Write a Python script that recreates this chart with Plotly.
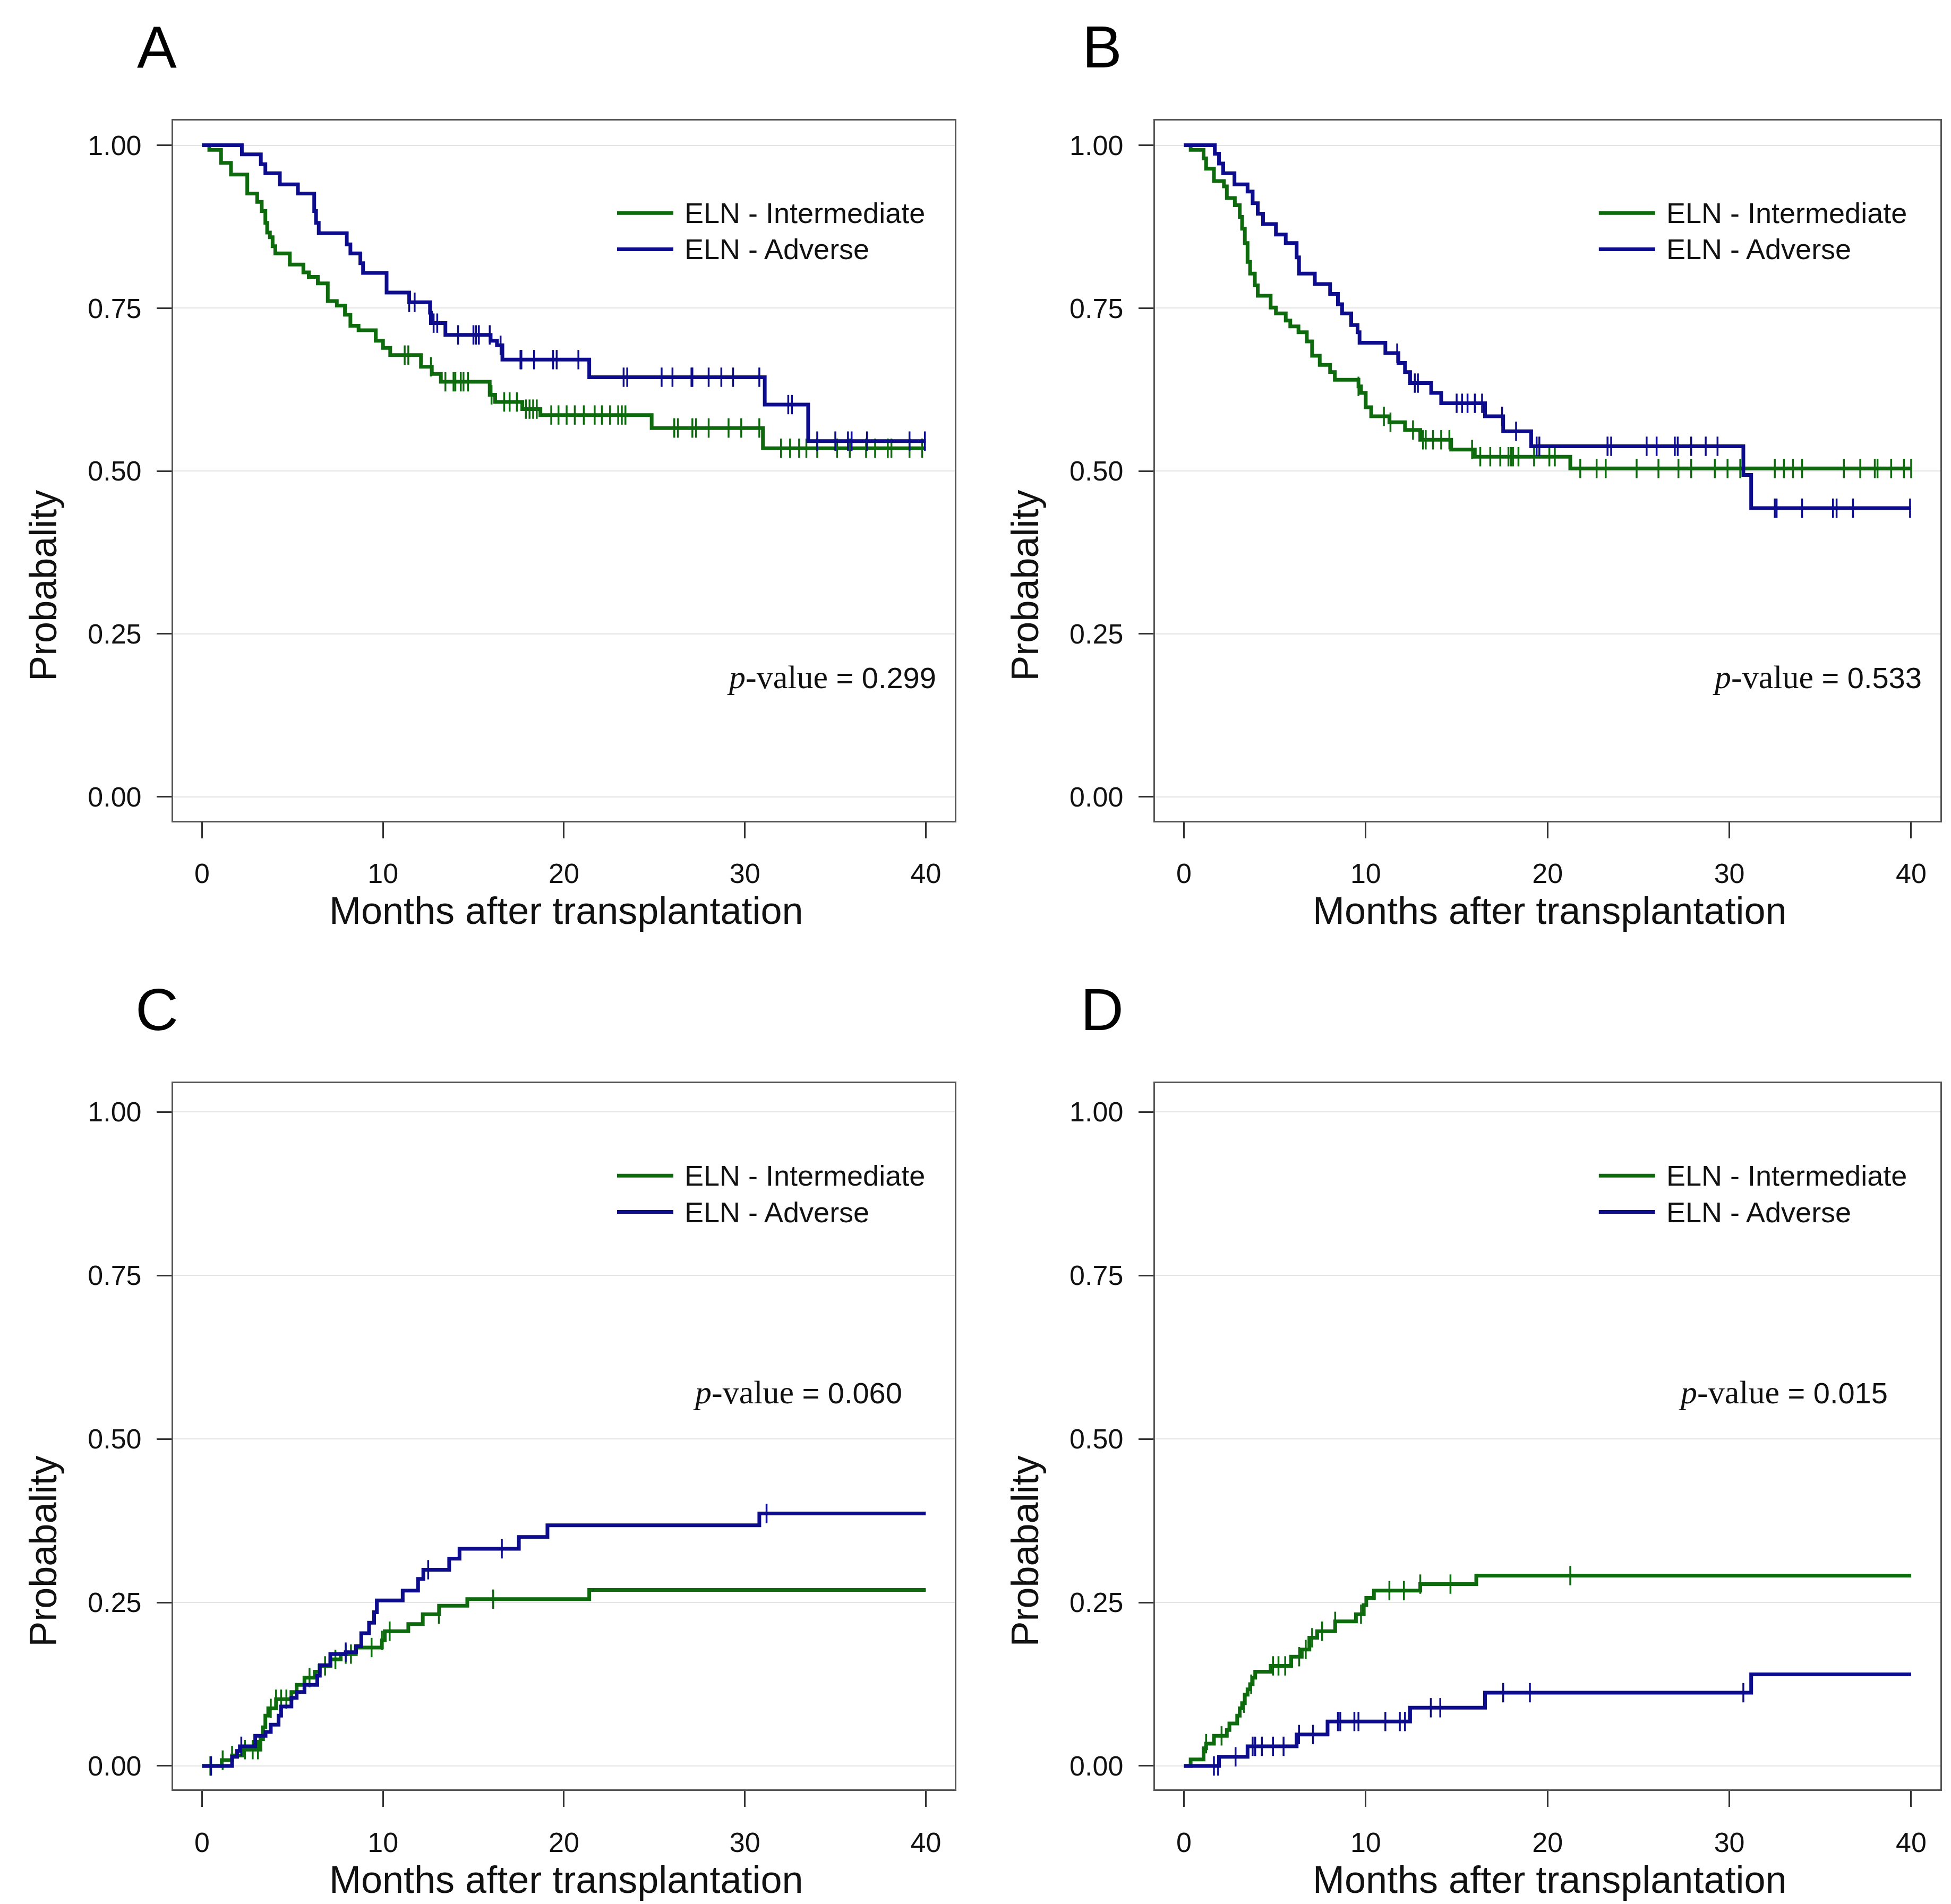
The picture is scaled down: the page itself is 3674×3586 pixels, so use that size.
import plotly.graph_objects as go

# ---------------- DATA ----------------
# Panel A (survival)
A_int_t = [0.4, 1.05, 1.6, 2.5, 3.05, 3.3, 3.5, 3.6, 3.75, 3.9, 4.05, 4.85, 5.6, 5.9, 6.4, 6.95, 7.45,
           7.9, 8.2, 8.65, 9.6, 10.0, 10.4, 12.1, 12.7, 13.2, 15.9, 16.2, 17.7, 18.7, 24.85, 31.0]
A_int_s = [0.993, 0.973, 0.955, 0.926, 0.913, 0.899, 0.881, 0.866, 0.859, 0.845, 0.834, 0.817, 0.805, 0.798,
           0.788, 0.761, 0.754, 0.740, 0.723, 0.716, 0.700, 0.689, 0.678, 0.660, 0.649, 0.637, 0.617, 0.606,
           0.595, 0.586, 0.566, 0.535]
A_int_cens = [11.2, 11.4, 12.65, 13.45, 13.9, 14.0, 14.3, 14.45, 14.7, 16.0, 16.7, 17.0, 17.4, 17.9, 18.1,
              18.3, 18.5, 19.3, 19.7, 20.15, 20.6, 21.1, 21.7, 22.1, 22.55, 23.0, 23.2, 23.4, 26.1, 26.3,
              27.1, 27.3, 28.0, 29.1, 29.8, 30.8, 32.0, 32.5, 33.0, 33.4, 34.0, 35.1, 35.8, 36.7, 37.2,
              37.9, 38.1, 39.1, 39.8]

A_adv_t = [2.2, 3.25, 3.5, 4.3, 5.3, 6.2, 6.3, 6.45, 8.0, 8.2, 8.75, 8.9, 10.2, 11.45, 12.6, 12.65, 13.45,
           15.95, 16.3, 16.6, 21.4, 31.1, 33.5]
A_adv_s = [0.986, 0.971, 0.957, 0.940, 0.926, 0.899, 0.881, 0.865, 0.848, 0.834, 0.819, 0.804, 0.774, 0.759,
           0.743, 0.727, 0.709, 0.700, 0.693, 0.671, 0.644, 0.602, 0.546]
A_adv_cens = [11.45, 11.75, 12.8, 13.0, 14.15, 15.0, 15.15, 15.3, 15.9, 16.5, 17.6, 17.65, 18.35, 19.4,
              19.6, 20.8, 23.3, 23.5, 25.4, 26.0, 27.05, 27.1, 28.0, 28.7, 29.35, 30.8, 32.4, 32.6, 34.0,
              35.0, 35.7, 35.9, 36.75, 39.1, 39.95]

# Panel B (survival)
B_int_t = [0.37, 1.08, 1.22, 1.65, 2.2, 2.36, 2.8, 3.07, 3.2, 3.35, 3.5, 3.64, 3.9, 4.06, 4.77, 5.06, 5.6,
           5.85, 6.3, 6.76, 7.05, 7.47, 8.04, 8.3, 9.6, 9.74, 10.0, 10.3, 11.3, 12.16, 13.0, 14.7, 16.0, 21.25]
B_int_s = [0.993, 0.980, 0.964, 0.945, 0.937, 0.919, 0.908, 0.890, 0.872, 0.850, 0.821, 0.803, 0.785, 0.769,
           0.751, 0.742, 0.731, 0.722, 0.713, 0.699, 0.677, 0.663, 0.652, 0.640, 0.630, 0.620, 0.598, 0.584,
           0.575, 0.563, 0.548, 0.533, 0.522, 0.504]
B_int_cens = [9.6, 11.0, 11.36, 12.6, 13.15, 13.3, 13.7, 14.15, 14.6, 15.85, 16.3, 16.85, 17.4, 17.85, 18.0,
              18.1, 18.4, 19.26, 20.1, 20.4, 21.8, 22.7, 23.2, 24.9, 26.1, 27.2, 27.9, 29.2, 29.9, 30.6,
              32.5, 33.0, 33.5, 34.0, 36.3, 37.2, 38.0, 38.15, 38.9, 39.6, 40.0]

B_adv_t = [1.7, 1.93, 2.16, 2.78, 3.5, 3.78, 4.06, 4.35, 5.06, 5.6, 6.2, 6.33, 7.2, 8.04, 8.47, 8.7, 9.2,
           9.55, 9.66, 11.08, 11.8, 12.16, 12.44, 13.6, 14.15, 16.56, 17.56, 19.1, 30.77, 31.2]
B_adv_s = [0.987, 0.972, 0.957, 0.940, 0.929, 0.911, 0.895, 0.879, 0.863, 0.850, 0.828, 0.803, 0.787, 0.772,
           0.756, 0.742, 0.724, 0.713, 0.697, 0.681, 0.666, 0.652, 0.635, 0.620, 0.604, 0.584, 0.561, 0.538,
           0.494, 0.443]
B_adv_cens = [11.73, 12.7, 12.87, 15.0, 15.3, 15.6, 16.0, 16.4, 17.5, 18.27, 19.4, 19.55, 23.3, 23.5, 25.45,
              26.0, 27.0, 27.16, 27.9, 28.7, 29.35, 32.5, 32.6, 34.0, 35.7, 35.9, 36.8, 39.94]

# Panel C (cumulative incidence)
C_int_t = [1.09, 1.66, 2.23, 3.23, 3.37, 3.5, 3.66, 4.09, 4.94, 5.23, 5.66, 6.23, 6.5, 7.1, 7.66, 8.5,
           9.94, 10.1, 11.4, 12.2, 13.1, 14.66, 21.4]
C_int_s = [0.009, 0.016, 0.025, 0.041, 0.059, 0.077, 0.088, 0.102, 0.113, 0.124, 0.135, 0.144, 0.153, 0.163,
           0.171, 0.181, 0.192, 0.206, 0.217, 0.232, 0.245, 0.255, 0.269]
C_int_cens = [0.46, 1.14, 1.66, 2.37, 2.8, 3.09, 3.8, 4.09, 4.37, 4.66, 5.94, 6.8, 7.37, 7.94, 8.23, 9.37,
              9.94, 10.37, 13.09, 16.09]

C_adv_t = [1.66, 1.94, 2.09, 2.94, 3.51, 3.8, 4.23, 4.37, 4.94, 5.23, 5.66, 6.37, 6.51, 7.09, 7.94, 8.51,
           8.8, 9.23, 9.51, 9.66, 11.09, 11.94, 12.23, 13.66, 14.23, 17.51, 19.09, 30.8]
C_adv_s = [0.014, 0.023, 0.030, 0.046, 0.052, 0.063, 0.077, 0.091, 0.104, 0.113, 0.124, 0.138, 0.154, 0.171,
           0.174, 0.183, 0.203, 0.219, 0.235, 0.253, 0.268, 0.286, 0.300, 0.317, 0.332, 0.350, 0.368, 0.386]
C_adv_cens = [0.5, 2.17, 7.94, 12.5, 16.57, 31.2]

# Panel D (cumulative incidence)
D_int_t = [0.37, 1.08, 1.22, 1.65, 2.36, 2.5, 2.93, 3.07, 3.2, 3.35, 3.5, 3.64, 3.78, 3.92, 4.77, 5.9, 6.48,
           6.9, 7.33, 8.32, 9.46, 9.89, 10.03, 10.45, 13.0, 16.08]
D_int_s = [0.010, 0.027, 0.034, 0.046, 0.055, 0.065, 0.077, 0.088, 0.096, 0.109, 0.117, 0.125, 0.135, 0.144,
           0.153, 0.167, 0.178, 0.196, 0.206, 0.221, 0.232, 0.246, 0.257, 0.268, 0.278, 0.291]
D_int_cens = [1.22, 2.07, 3.3, 3.7, 4.9, 5.2, 5.57, 6.34, 6.7, 7.05, 7.6, 8.32, 9.74, 11.3, 12.1, 13.0,
              14.66, 21.25]

D_adv_t = [1.93, 3.5, 6.2, 7.9, 12.44, 16.56, 31.2]
D_adv_s = [0.014, 0.030, 0.048, 0.068, 0.089, 0.112, 0.140]
D_adv_cens = [1.65, 1.88, 2.84, 3.78, 3.92, 4.29, 4.9, 5.48, 6.33, 7.1, 8.47, 8.6, 9.375, 9.6, 11.08,
              11.875, 12.16, 13.58, 14.1, 17.56, 19.03, 30.77]

panel_letters = ["A", "B", "C", "D"]
p_values = ["0.299", "0.533", "0.060", "0.015"]
series_names = ["ELN - Intermediate", "ELN - Adverse"]
y_ticks = [0, 0.25, 0.5, 0.75, 1.0]
y_tick_text = ["0.00", "0.25", "0.50", "0.75", "1.00"]
x_ticks = [0, 10, 20, 30, 40]
x_title = "Months after transplantation"
y_title = "Probabality"

# ---------------- STYLE / LAYOUT ----------------
GREEN = "#0d6b0d"
BLUE = "#0c0c8c"
SANS = "Liberation Sans, Arial, sans-serif"
W, H = 3674, 3586
DW, DH = 1560.0, 1523.0  # reference display coords


def px(x):
    return x / DW


def py(y):
    return 1 - y / DH


def step_at(times, vals, start, t):
    v = start
    for ti, vi in zip(times, vals):
        if ti <= t + 1e-9:
            v = vi
    return v


panels = [
    dict(it=A_int_t, iv=A_int_s, ic=A_int_cens, at=A_adv_t, av=A_adv_s, ac=A_adv_cens, start=1.0),
    dict(it=B_int_t, iv=B_int_s, ic=B_int_cens, at=B_adv_t, av=B_adv_s, ac=B_adv_cens, start=1.0),
    dict(it=C_int_t, iv=C_int_s, ic=C_int_cens, at=C_adv_t, av=C_adv_s, ac=C_adv_cens, start=0.0),
    dict(it=D_int_t, iv=D_int_s, ic=D_int_cens, at=D_adv_t, av=D_adv_s, ac=D_adv_cens, start=0.0),
]

# display-coordinate boxes: (left, right, top, bottom)
boxes = [(135, 760, 93, 653), (920, 1548, 93, 653), (135, 760, 863, 1428), (920, 1548, 863, 1428)]
yranges = [(-0.0365, 1.038), (-0.0365, 1.038), (-0.036, 1.044), (-0.036, 1.044)]

fig = go.Figure()
layout = dict(width=W, height=H, margin=dict(l=0, r=0, t=0, b=0),
              paper_bgcolor="white", plot_bgcolor="white", showlegend=False)
shapes = []
annotations = []

for i, p in enumerate(panels):
    n = "" if i == 0 else str(i + 1)
    xa, ya = "x" + n, "y" + n
    L, R, T, B = boxes[i]
    layout["xaxis" + n] = dict(
        domain=[px(L), px(R)], range=[-1.6, 41.6], anchor=ya,
        tickvals=x_ticks, ticks="outside", ticklen=30, tickwidth=3, tickcolor="#333",
        showline=True, linecolor="#555", linewidth=3, mirror=True, showgrid=False, zeroline=False,
        tickfont=dict(family=SANS, size=52, color="#111"), ticklabelstandoff=22,
    )
    layout["yaxis" + n] = dict(
        domain=[py(B), py(T)], range=list(yranges[i]), anchor=xa,
        tickvals=y_ticks, ticktext=y_tick_text, ticks="outside", ticklen=28, tickwidth=3, tickcolor="#333",
        showline=True, linecolor="#555", linewidth=3, mirror=True,
        showgrid=True, gridcolor="#e3e3e3", gridwidth=2, zeroline=False,
        tickfont=dict(family=SANS, size=52, color="#111"), ticklabelstandoff=18,
    )
    for (t, v, c, col, name) in [(p["it"], p["iv"], p["ic"], GREEN, series_names[0]),
                                  (p["at"], p["av"], p["ac"], BLUE, series_names[1])]:
        xs = [0] + list(t) + [40]
        ys = [p["start"]] + list(v) + [v[-1]]
        fig.add_trace(go.Scatter(x=xs, y=ys, mode="lines", line=dict(color=col, width=7, shape="hv"),
                                 name=name, xaxis=xa, yaxis=ya, hoverinfo="skip"))
        cy = [step_at(t, v, p["start"], ci) for ci in c]
        fig.add_trace(go.Scatter(x=c, y=cy, mode="markers", xaxis=xa, yaxis=ya, name=name,
                                 marker=dict(symbol="line-ns", size=26, line=dict(color=col, width=3.5)),
                                 hoverinfo="skip"))

    cx = (L + R) / 2
    # axis titles
    annotations.append(dict(text=x_title, x=px(cx + 2), y=py(B + 72), xref="paper", yref="paper",
                            showarrow=False, font=dict(family=SANS, size=72, color="#111"),
                            xanchor="center", yanchor="middle"))
    annotations.append(dict(text=y_title, x=px(L - 104), y=py((T + B) / 2 + 92), xref="paper", yref="paper",
                            showarrow=False, textangle=-90, font=dict(family=SANS, size=72, color="#111"),
                            xanchor="center", yanchor="middle"))
    # panel letter
    annotations.append(dict(text=panel_letters[i], x=px(L - 13 if i % 2 == 0 else L - 42), y=py(T - 59),
                            xref="paper", yref="paper", showarrow=False,
                            font=dict(family=SANS, size=112, color="#000"),
                            xanchor="center", yanchor="middle"))
    # legend (manual)
    lx0 = L + 355
    rows = [T + 74, T + 103]
    for r, (col, name) in enumerate([(GREEN, series_names[0]), (BLUE, series_names[1])]):
        shapes.append(dict(type="line", xref="paper", yref="paper", x0=px(lx0), x1=px(lx0 + 45),
                           y0=py(rows[r]), y1=py(rows[r]), line=dict(color=col, width=7)))
        annotations.append(dict(text=name, x=px(lx0 + 53), y=py(rows[r]), xref="paper", yref="paper",
                                showarrow=False, font=dict(family=SANS, size=54, color="#111"),
                                xanchor="left", yanchor="middle"))
    # p-value
    if i < 2:
        pvx, pvy = R - 14, T + 445
    else:
        pvx, pvy = R - 41, T + 247
    annotations.append(dict(
        text='<span style="font-family:Liberation Serif, serif;font-size:62px"><i>p</i>-value</span> = ' + p_values[i],
        x=px(pvx), y=py(pvy), xref="paper", yref="paper", showarrow=False,
        font=dict(family=SANS, size=56, color="#111"), xanchor="right", yanchor="middle"))

layout["shapes"] = shapes
layout["annotations"] = annotations
fig.update_layout(**layout)
fig.write_html("out.html")
